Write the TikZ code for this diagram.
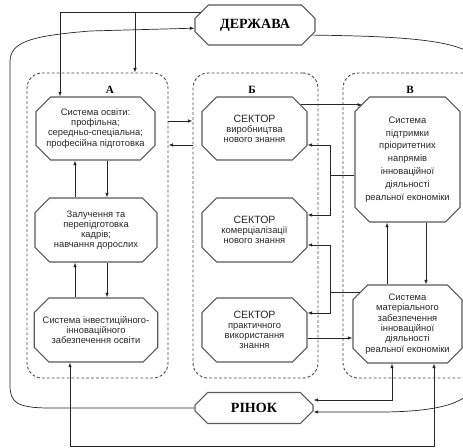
\documentclass[tikz,border=0pt]{standalone}
\usepackage{fontspec}
\setmainfont{Liberation Serif}
\setsansfont{Liberation Sans}
\usetikzlibrary{arrows.meta,shapes.misc}

\newcommand{\sektor}{{\fontsize{9}{10}\selectfont СЕКТОР}}

\tikzset{
  grp/.style={draw=black!70, dash pattern=on 2.4pt off 1.8pt, line width=0.8pt, rounded corners=0.45cm, inner sep=0pt},
  blk/.style={draw=black!65, line width=0.9pt, chamfered rectangle, chamfered rectangle xsep=0.22cm, chamfered rectangle ysep=0.22cm, inner sep=1pt, align=center, text=black!85, font=\sffamily\fontsize{8}{8.6}\selectfont},
  big/.style={blk, chamfered rectangle xsep=0.2cm, chamfered rectangle ysep=0.2cm, text=black, font=\rmfamily\bfseries\fontsize{12}{14}\selectfont},
  lbl/.style={font=\rmfamily\bfseries\fontsize{9.5}{10}\selectfont}
}

\begin{document}
\begin{tikzpicture}[x=0.03cm, y=-0.03cm, >={Latex[length=4pt,width=3pt]}, line width=0.6pt, draw=black!85]
        \clip (0,0) rectangle (463,448);
        % Groups
        \node[grp, minimum width=4.23cm, minimum height=9.15cm] (ga) at (97.5,225.5) {};
        \node[grp, minimum width=3.75cm, minimum height=9.15cm] (gb) at (255.5,225.5) {};
        \node[grp, minimum width=4.2cm, minimum height=9.15cm] (gv) at (413,225.5) {};
        \node[lbl] (la) at (110,90) {А};
        \node[lbl] (lb) at (252,90) {Б};
        \node[lbl] (lv) at (410,90) {В};
        % State and market
        \node[big, minimum width=3.6cm, minimum height=1.2cm] (derzh) at (255,25) {ДЕРЖАВА};
        \node[big, minimum width=3.54cm, minimum height=0.93cm] (rinok) at (254,408) {РІНОК};
        % Group A
        \node[blk, minimum width=3.57cm, minimum height=1.89cm] (a1) at (95.5,128.5) {Система освіти:\\профільна;\\середньо-спеціальна;\\професійна підготовка};
        \node[blk, minimum width=3.66cm, minimum height=1.92cm] (a2) at (96,230) {Залучення та\\перепідготовка\\кадрів;\\навчання дорослих};
        \node[blk, minimum width=3.66cm, minimum height=1.92cm] (a3) at (96,330) {Система інвестиційного-\\інноваційного\\забезпечення освіти};
        % Group B
        \node[blk, minimum width=3.15cm, minimum height=1.89cm] (b1) at (254.5,128.5) {\sektor\\виробництва\\нового знання};
        \node[blk, minimum width=3.15cm, minimum height=1.92cm] (b2) at (254.5,230) {\sektor\\комерціалізації\\нового знання};
        \node[blk, minimum width=3.15cm, minimum height=1.92cm] (b3) at (254.5,330) {\sektor\\практичного\\використання\\знання};
        % Group V
        \node[blk, minimum width=3.15cm, minimum height=3.75cm, font=\sffamily\fontsize{8}{11}\selectfont] (v1) at (407.5,159.5) {Система\\підтримки\\пріоритетних\\напрямів\\інноваційної\\діяльності\\реальної економіки};
        \node[blk, minimum width=3.27cm, minimum height=2.34cm, font=\sffamily\fontsize{8}{8.8}\selectfont] (v2) at (407.5,324) {Система\\матеріального\\забезпечення\\інноваційної\\діяльності\\реальної економіки};

        % State to group A
        \coordinate (st1) at (60,12);
        \coordinate (st2) at (135,12);
        \draw[->] (st1 -| derzh.166) -- (st1) -- (a1.north -| st1);
        \draw[->] (st2) -- (ga.north -| st2);
        % Outer loop
        \draw[->] (rinok.west) -- (50,408) .. controls (16,408) and (10,402) .. (10,385) -- (10,62) .. controls (10,42) and (30,36) .. (90,31) -- (derzh.183);
        \draw[->] (derzh.-10) .. controls (380,36) and (455,38) .. (472,55) -- (472,385) .. controls (470,405) and (430,412) .. (380,412) -- (rinok.east |- 0,412);
        % Bottom line
        \coordinate (bl) at (70,446);
        \coordinate (br) at (434,446);
        \draw[<->] (a3.south -| bl) -- (bl) -- (br) -- (v2.south -| br);
        % Inside A
        \coordinate (xa) at (75,0);
        \coordinate (xb) at (107,0);
        \draw[->] (a2.north -| xa) -- (a1.south -| xa);
        \draw[->] (a1.south -| xb) -- (a2.north -| xb);
        \draw[->] (a3.north -| xa) -- (a2.south -| xa);
        \draw[->] (a2.south -| xb) -- (a3.north -| xb);
        % A and B
        \coordinate (ry1) at (0,121);
        \coordinate (ry2) at (0,145);
        \draw[->] (ga.east |- ry1) -- (gb.west |- ry1);
        \draw[->] (gb.west |- ry2) -- (ga.east |- ry2);
        % B and V
        \draw[->] (b1.27) -- (b1.27 -| v1.129);
        \coordinate (j1) at (330,175);
        \coordinate (j1t) at (0,145);
        \coordinate (j1b) at (0,215);
        \draw (v1.west |- j1) -- (j1);
        \draw[->] (j1) |- (b1.east |- j1t);
        \draw[->] (j1) |- (b2.east |- j1b);
        \coordinate (j2) at (330,292);
        \coordinate (j2t) at (0,245);
        \coordinate (j2b) at (0,313);
        \draw (v2.146 |- j2) -- (j2);
        \draw[->] (j2) |- (b2.east |- j2t);
        \draw[->] (j2) |- (b3.east |- j2b);
        \coordinate (ry3) at (0,338);
        \draw[->] (b3.east |- ry3) -- (v2.west |- ry3);
        % Inside V
        \coordinate (vx1) at (387,0);
        \coordinate (vx2) at (426,0);
        \draw[->] (v2.north -| vx1) -- (v1.south -| vx1);
        \draw[->] (v1.south -| vx2) -- (v2.north -| vx2);
        % V and market
        \coordinate (vx3) at (392,400);
        \draw[<->] (v2.south -| vx3) -- (vx3) -- (rinok.east |- vx3);
    \end{tikzpicture}
\end{document}
